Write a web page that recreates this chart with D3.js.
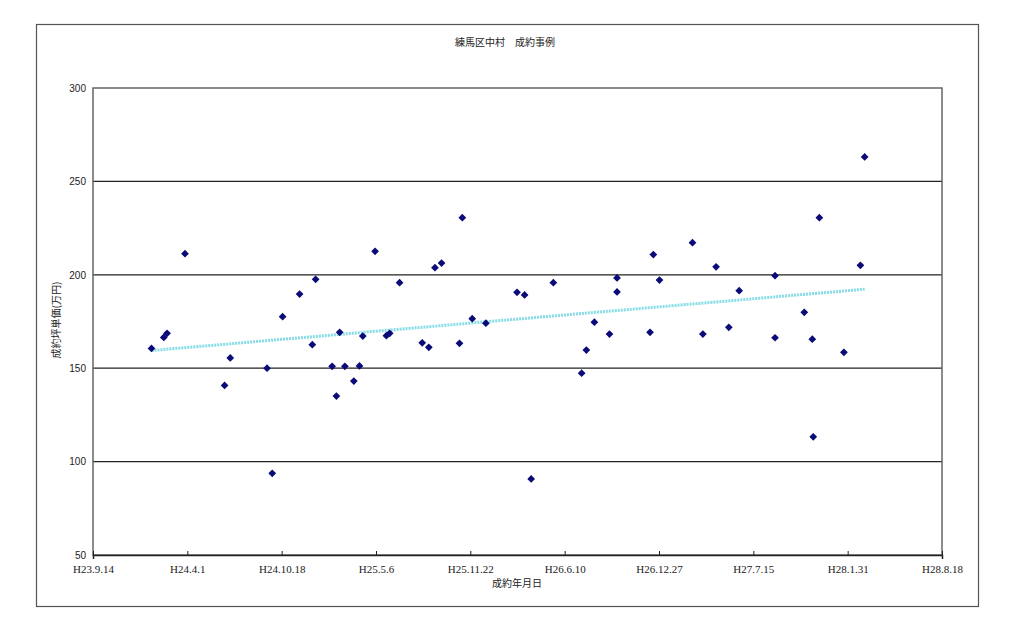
<!DOCTYPE html>
<html>
<head>
<meta charset="utf-8">
<script src="https://cdn.jsdelivr.net/npm/d3@7"></script>
<style>
  body { margin: 0; background: #fff; }
  svg text { fill: #222; }
</style>
</head>
<body>
<div id="chart"></div>
<script>
// 成約事例 (date, 坪単価 万円)
var dates = [
  "2012-01-16", "2012-02-11", "2012-02-18", "2012-03-27", "2012-06-19", "2012-07-01",
  "2012-09-17", "2012-09-28", "2012-10-20", "2012-11-25", "2012-12-22", "2012-12-29",
  "2013-02-02", "2013-02-11", "2013-02-18", "2013-03-01", "2013-03-20", "2013-04-01",
  "2013-04-08", "2013-05-04", "2013-05-28", "2013-06-04", "2013-06-25", "2013-08-12",
  "2013-08-26", "2013-09-08", "2013-09-22", "2013-10-30", "2013-11-05", "2013-11-26",
  "2013-12-25", "2014-03-01", "2014-03-17", "2014-03-31", "2014-05-17", "2014-07-16",
  "2014-07-26", "2014-08-12", "2014-09-13", "2014-09-29", "2014-09-29", "2014-12-08",
  "2014-12-15", "2014-12-28", "2015-03-08", "2015-03-30", "2015-04-27", "2015-05-24",
  "2015-06-15", "2015-08-30", "2015-08-30", "2015-10-31", "2015-11-17", "2015-11-19",
  "2015-12-02", "2016-01-23", "2016-02-27", "2016-03-07"
];
var prices = [
  160.6, 166.5, 168.7, 211.3, 140.8, 155.5,
  150.0, 93.7, 177.6, 189.7, 162.6, 197.6,
  151.0, 135.1, 169.2, 151.0, 143.1, 151.2,
  167.2, 212.6, 167.4, 168.7, 195.8, 163.6,
  161.2, 203.8, 206.3, 163.3, 230.6, 176.5,
  174.1, 190.6, 189.2, 90.7, 195.8, 147.3,
  159.7, 174.6, 168.3, 198.3, 190.8, 169.2,
  210.8, 197.2, 217.2, 168.3, 204.3, 171.9,
  191.5, 199.5, 166.3, 179.9, 165.5, 113.3,
  230.6, 158.5, 205.1, 263.1
];
var xTickDates = ["2011-09-14", "2012-04-01", "2012-10-18", "2013-05-06", "2013-11-22",
                  "2014-06-10", "2014-12-27", "2015-07-15", "2016-01-31", "2016-08-18"];
var xTickLabels = ["H23.9.14", "H24.4.1", "H24.10.18", "H25.5.6", "H25.11.22",
                   "H26.6.10", "H26.12.27", "H27.7.15", "H28.1.31", "H28.8.18"];
var yTicks = [50, 100, 150, 200, 250, 300];

var title = "練馬区中村　成約事例";
var xTitle = "成約年月日";
var yTitle = "成約坪単価(万円)";

var parse = d3.timeParse("%Y-%m-%d");
var points = dates.map(function(d, i) { return {date: parse(d), price: prices[i]}; });

var W = 1024, H = 634;
var margin = {top: 88, right: 82, bottom: 79, left: 93},
    width = W - margin.left - margin.right,
    height = H - margin.top - margin.bottom;

var svg = d3.select("#chart").append("svg")
    .attr("width", W)
    .attr("height", H);

// outer frame
svg.append("rect")
    .attr("x", 36.5).attr("y", 24.5)
    .attr("width", 942).attr("height", 582)
    .attr("fill", "none")
    .attr("stroke", "#555")
    .attr("stroke-width", 1.2);

var g = svg.append("g")
    .attr("transform", "translate(" + margin.left + "," + margin.top + ")");

var x = d3.scaleTime()
    .domain([parse(xTickDates[0]), parse(xTickDates[xTickDates.length - 1])])
    .range([0, width]);

var y = d3.scaleLinear()
    .domain([50, 300])
    .range([height, 0]);

// grid lines
g.selectAll(".grid")
    .data(yTicks.slice(1, -1))
    .enter().append("line")
    .attr("class", "grid")
    .attr("x1", 0).attr("x2", width)
    .attr("y1", d => y(d)).attr("y2", d => y(d))
    .attr("stroke", "#222")
    .attr("stroke-width", 1.2);

// plot frame
g.append("rect")
    .attr("x", 0).attr("y", 0)
    .attr("width", width).attr("height", height)
    .attr("fill", "none")
    .attr("stroke", "#666")
    .attr("stroke-width", 1.5);

// axes
var yAxis = g.append("g")
    .call(d3.axisLeft(y).tickValues(yTicks).tickSize(0).tickPadding(7));
yAxis.select(".domain").remove();
yAxis.selectAll("text")
    .style("font-family", "'Liberation Sans', sans-serif")
    .style("font-size", "10px")
    .attr("fill", "#333");

var xAxis = g.append("g")
    .attr("transform", "translate(0," + height + ")")
    .call(d3.axisBottom(x)
        .tickValues(xTickDates.map(parse))
        .tickFormat((d, i) => xTickLabels[i])
        .tickSize(4).tickSizeInner(-4).tickPadding(10));
xAxis.select(".domain").attr("stroke", "#222").attr("stroke-width", 1.5);
xAxis.selectAll(".tick line").attr("stroke", "#222");
xAxis.selectAll("text")
    .style("font-family", "'Liberation Serif', serif")
    .style("font-size", "11px")
    .attr("fill", "#222");

// trend line (least squares)
var xs = points.map(p => +p.date), ys = points.map(p => p.price);
var mx = d3.mean(xs), my = d3.mean(ys);
var slope = d3.sum(xs, (v, i) => (v - mx) * (ys[i] - my)) / d3.sum(xs, v => (v - mx) * (v - mx));
var icpt = my - slope * mx;
var ext = d3.extent(xs);
var trend = ext.map(v => ({date: new Date(v), price: icpt + slope * v}));

g.append("path")
    .datum(trend)
    .attr("d", d3.line().x(d => x(d.date)).y(d => y(d.price)))
    .attr("fill", "none")
    .attr("stroke", "#86dde6")
    .attr("stroke-width", 3)
    .attr("stroke-dasharray", "2,1");

// markers (square turned 45deg, like Excel's diamond)
g.selectAll(".pt")
    .data(points)
    .enter().append("path")
    .attr("class", "pt")
    .attr("transform", d => "translate(" + x(d.date) + "," + y(d.price) + ") rotate(45)")
    .attr("d", d3.symbol().type(d3.symbolSquare).size(30))
    .attr("fill", "#0a0a78");

// titles
svg.append("text")
    .attr("x", 505).attr("y", 46)
    .attr("text-anchor", "middle")
    .style("font-family", "'Noto Sans CJK JP', sans-serif")
    .style("font-size", "10px")
    .text(title);

svg.append("text")
    .attr("x", 517).attr("y", 587)
    .attr("text-anchor", "middle")
    .style("font-family", "'Noto Sans CJK JP', sans-serif")
    .style("font-size", "10px")
    .text(xTitle);

svg.append("text")
    .attr("transform", "translate(60,320) rotate(-90)")
    .attr("text-anchor", "middle")
    .style("font-family", "'Noto Sans CJK JP', sans-serif")
    .style("font-size", "10px")
    .text(yTitle);
</script>
</body>
</html>
